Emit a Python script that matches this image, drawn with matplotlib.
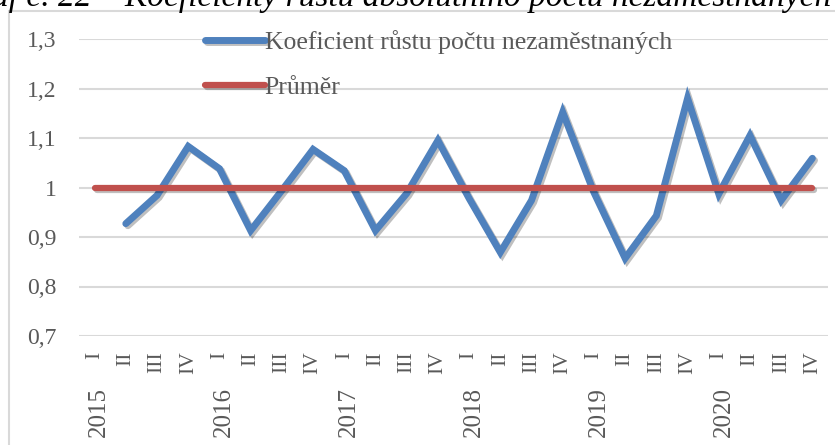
import matplotlib
matplotlib.use('Agg')
import matplotlib.pyplot as plt
import matplotlib.patheffects as pe
import matplotlib.transforms as mtransforms
from matplotlib.patches import Rectangle
from matplotlib.ticker import FuncFormatter

# data
years = ['2015', '2016', '2017', '2018', '2019', '2020']
quarters = ['I', 'II', 'III', 'IV']
growth = [None, 0.927, 0.984, 1.083, 1.038, 0.913, 0.994, 1.077, 1.034, 0.913,
          0.988, 1.095, 0.978, 0.869, 0.974, 1.152, 0.990, 0.857, 0.943, 1.180,
          0.987, 1.105, 0.974, 1.059]
mean_value = 1.0

labels = [q for y in years for q in quarters]
x = list(range(len(labels)))
xs = [i for i, v in zip(x, growth) if v is not None]
ys = [v for v in growth if v is not None]

plt.rcParams['font.family'] = ['Liberation Serif', 'DejaVu Serif']
gray = '#595959'

fig = plt.figure(figsize=(8.35, 4.45), dpi=100)
ax = fig.add_axes([79 / 835, 1 - 336 / 445, 749 / 835, 297 / 445])

shadow = [pe.SimpleLineShadow(offset=(1.5, -1.5), alpha=0.25), pe.Normal()]
ax.plot(xs, ys, color='#4F81BD', lw=5, solid_capstyle='round',
        solid_joinstyle='miter', label='Koeficient růstu počtu nezaměstnaných',
        path_effects=shadow)
ax.plot(x, [mean_value] * len(x), color='#C0504D', lw=4.5, solid_capstyle='round',
        label='Průměr', path_effects=shadow)

ax.set_xlim(-0.5, len(x) - 0.5)
ax.set_ylim(0.7, 1.3)
ax.set_yticks([0.7, 0.8, 0.9, 1.0, 1.1, 1.2, 1.3])
ax.yaxis.set_major_formatter(FuncFormatter(lambda v, p: ('%g' % round(v, 1)).replace('.', ',')))
ax.grid(axis='y', color='#D9D9D9', lw=1.5)
ax.set_axisbelow(True)
for s in ax.spines.values():
    s.set_visible(False)

ax.set_xticks(x)
ax.set_xticklabels(labels, rotation=90, va='top', ha='center')
ax.tick_params(axis='x', length=0, pad=11, labelsize=15.5, labelcolor=gray)
ax.tick_params(axis='y', length=0, pad=16, labelsize=17, labelcolor=gray)

trans = mtransforms.blended_transform_factory(ax.transData, ax.transAxes)
for k, yr in enumerate(years):
    ax.text(k * 4 + 0.15, -0.172, yr, transform=trans, rotation=90, ha='center',
            va='top', fontsize=18, color=gray)

leg = ax.legend(loc='upper left', bbox_to_anchor=(0.168, 1.03), frameon=False,
                fontsize=18.5, handlelength=2.33, handletextpad=0.0, labelspacing=0.86,
                borderpad=0, borderaxespad=0)
for t in leg.get_texts():
    t.set_color(gray)

# chart frame and cut-off caption above it
fig.patches.append(Rectangle((9 / 835, -0.1), 2, 1.1 - 11 / 445, transform=fig.transFigure,
                             fill=False, edgecolor='#D9D9D9', lw=1.5))
fig.text(-0.01, 1 - 6 / 445, 'af č. 22 – Koeficienty růstu absolutního počtu nezaměstnaných od',
         fontsize=24, style='italic', va='baseline', ha='left', color='black')

fig.savefig('out.png', dpi=100)
